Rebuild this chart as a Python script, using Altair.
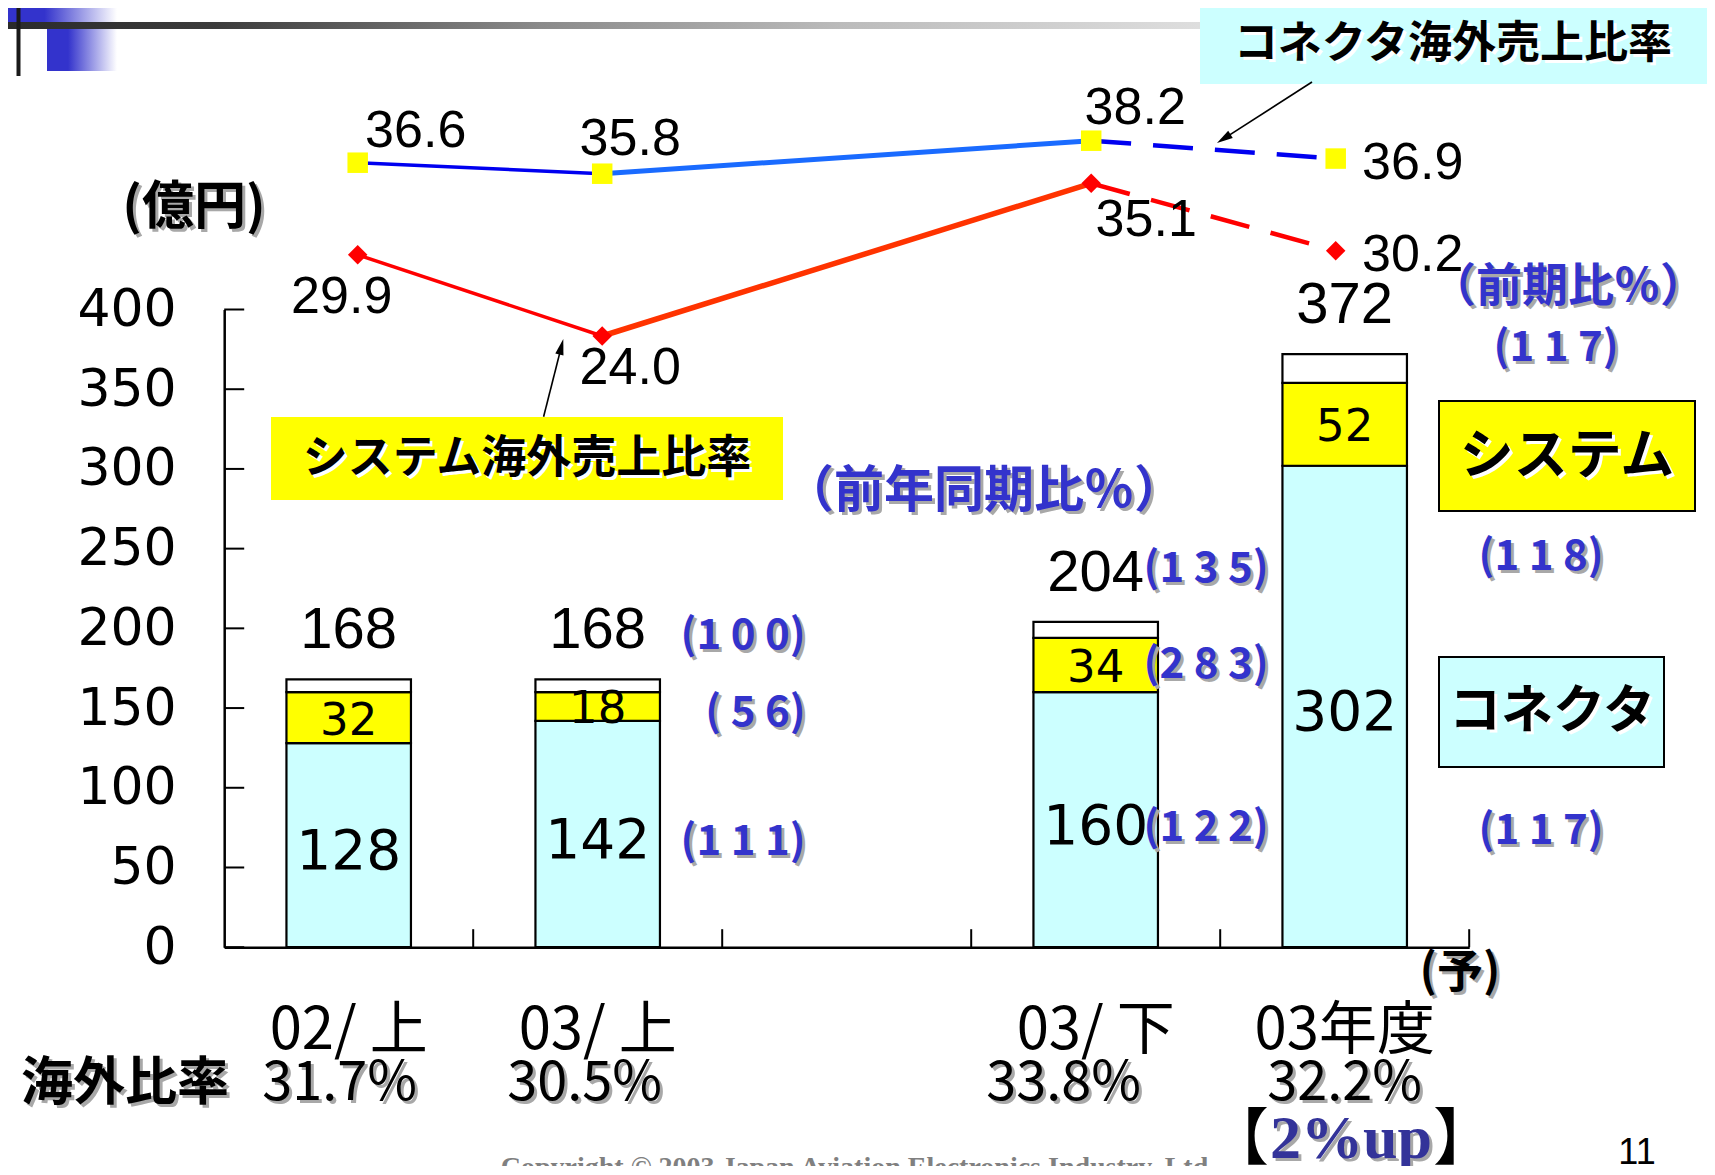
import altair as alt
import pandas as pd
import math

# ---------------- data ----------------
periods = ["02/上", "03/上", "03/下", "03年度"]
slots = ["02/上", "03/上", " ", "03/下", "03年度"]        # band slots (one empty gap)
axis_labels = ["02/ 上", "03/ 上", "03/ 下", "03年度"]
connector = [128, 142, 160, 302]
system = [32, 18, 34, 52]
total = [168, 168, 204, 372]
conn_ratio = [36.6, 35.8, 38.2, 36.9]   # コネクタ海外売上比率
sys_ratio = [29.9, 24.0, 35.1, 30.2]    # システム海外売上比率
overseas = [31.7, 30.5, 33.8, 32.2]     # 海外比率
yoy_total = [None, 100, 135, 117]
yoy_system = [None, 56, 283, 118]
yoy_conn = [None, 111, 122, 117]
y_ticks = [0, 50, 100, 150, 200, 250, 300, 350, 400]

# ---------------- geometry ----------------
OX, OY = 224.2, 309.5          # plot origin in page coordinates
W, H = 1245.0, 637.7
TOT_W, TOT_H = 1699, 1158

def rx(x):
    return x - OX

def ry(y):
    return y - OY

JP = "Noto Sans CJK JP"
BLUE = "#3333CC"
GRAY = "#A8A8A8"
one = pd.DataFrame({"k": [0]})

xband = alt.Scale(domain=slots, paddingInner=0.5, paddingOuter=0.25)
xedge = alt.Scale(domain=slots, paddingInner=0, paddingOuter=0)
xpt = alt.Scale(type="point", domain=slots, padding=0.546)
ybar = alt.Scale(domain=[0, 400], nice=False, zero=True)
yline = alt.Scale(domain=[24.0, 38.2], range=[ry(336.0), ry(140.7)], nice=False, zero=False)

layers = []

def note(text, x, y, size, color="black", font=JP, weight="bold", align="center",
         baseline="middle", shadow=None, sd=3):
    out = []
    if shadow:
        out.append(alt.Chart(one).mark_text(text=text, fontSize=size, font=font, fontWeight=weight,
                                            color=shadow, align=align, baseline=baseline)
                   .encode(x=alt.value(rx(x + sd)), y=alt.value(ry(y + sd))))
    out.append(alt.Chart(one).mark_text(text=text, fontSize=size, font=font, fontWeight=weight,
                                        color=color, align=align, baseline=baseline)
               .encode(x=alt.value(rx(x)), y=alt.value(ry(y))))
    return out

def box(x0, y0, x1, y1, fill, stroke=None, sw=0):
    kw = dict(fill=fill, strokeWidth=sw)
    if stroke:
        kw["stroke"] = stroke
    return alt.Chart(one).mark_rect(**kw).encode(
        x=alt.value(rx(x0)), x2=alt.value(rx(x1)), y=alt.value(ry(y0)), y2=alt.value(ry(y1)))

def grad(stops):
    return alt.LinearGradient(gradient="linear",
                              stops=[alt.GradientStop(color=c, offset=o) for o, c in stops],
                              x1=0, x2=1, y1=0, y2=0)

def arrow(x0, y0, xt, yt, angle):
    ux, uy = xt - x0, yt - y0
    n = math.hypot(ux, uy)
    cx, cy = xt - 10 * ux / n, yt - 10 * uy / n
    return [
        alt.Chart(one).mark_rule(color="black", strokeWidth=1.6).encode(
            x=alt.value(rx(x0)), y=alt.value(ry(y0)), x2=alt.value(rx(cx)), y2=alt.value(ry(cy))),
        alt.Chart(one).mark_point(shape="M0,-1L0.42,0.6L-0.42,0.6Z", filled=True, color="black",
                                  opacity=1, size=400, angle=angle).encode(
            x=alt.value(rx(cx)), y=alt.value(ry(cy))),
    ]

# ---------------- header decoration ----------------
layers.append(box(0, 0, 117, 22, grad([(0, BLUE), (0.38, BLUE), (1, "#FFFFFF")])))
layers.append(box(47, 29, 117, 71, grad([(0, BLUE), (0.3, BLUE), (1, "#FFFFFF")])))
layers.append(box(0, 22, 1200, 29, grad([(0, "#2a2a2a"), (0.18, "#3c3c3c"), (0.45, "#8a8a8a"),
                                         (0.7, "#bbbbbb"), (1, "#dedede")])))
layers.append(box(16.5, 0, 20.5, 76, "#1a1a1a"))

# ---------------- legend / callout boxes ----------------
layers.append(box(271, 417, 783, 500, "#FFFF00"))
layers.append(box(1200, 2, 1712, 84, "#CCFFFF"))
layers.append(box(1439, 401, 1695, 511, "#FFFF00", "black", 2))
layers.append(box(1439, 657, 1664, 767, "#CCFFFF", "black", 2))

# ---------------- bars ----------------
bar_rows = []
for p, c, s, t in zip(periods, connector, system, total):
    bar_rows.append({"period": p, "seg": "コネクタ", "y0": 0, "y1": c})
    bar_rows.append({"period": p, "seg": "システム", "y0": c, "y1": c + s})
    bar_rows.append({"period": p, "seg": "その他", "y0": c + s, "y1": t})
bar_df = pd.DataFrame(bar_rows)

layers.append(alt.Chart(bar_df).mark_bar(stroke="black", strokeWidth=2.2).encode(
    x=alt.X("period:N", scale=xband,
            axis=alt.Axis(labels=False, ticks=False, title=None, domainColor="black",
                          domainWidth=2.5, grid=False)),
    y=alt.Y("y0:Q", scale=ybar,
            axis=alt.Axis(values=y_ticks, title=None, grid=False, ticks=False, labelFontSize=52,
                          labelFont="DejaVu Sans", labelColor="black", labelPadding=48,
                          domainColor="black", domainWidth=2.5, labelFlush=False)),
    y2="y1:Q",
    color=alt.Color("seg:N", scale=alt.Scale(domain=["コネクタ", "システム", "その他"],
                                             range=["#CCFFFF", "#FFFF00", "#FFFFFF"]),
                    legend=None)))

# axis ticks (inside)
layers.append(alt.Chart(pd.DataFrame({"slot": slots})).mark_rule(color="black", strokeWidth=2).encode(
    x=alt.X("slot:N", scale=xedge, bandPosition=1, axis=None),
    y=alt.value(H), y2=alt.value(H - 18)))
layers.append(alt.Chart(pd.DataFrame({"t": y_ticks})).mark_rule(color="black", strokeWidth=2).encode(
    y=alt.Y("t:Q", scale=ybar, axis=None), x=alt.value(0), x2=alt.value(20)))

lab_df = pd.DataFrame({
    "period": periods, "conn": connector, "sys": system, "total": total,
    "conn_mid": [c / 2 for c in connector],
    "sys_mid": [c + s / 2 for c, s in zip(connector, system)],
    "xlab": axis_labels,
})
XB = alt.X("period:N", scale=xband, axis=None)

layers.append(alt.Chart(lab_df).mark_text(font="DejaVu Sans", fontSize=55, dy=7, color="black").encode(
    x=XB, y=alt.Y("conn_mid:Q", scale=ybar, axis=None), text="conn:Q"))
layers.append(alt.Chart(lab_df).mark_text(font="DejaVu Sans", fontSize=45, dy=3, color="black").encode(
    x=XB, y=alt.Y("sys_mid:Q", scale=ybar, axis=None), text="sys:Q"))
layers.append(alt.Chart(lab_df).mark_text(font="Liberation Sans", fontSize=58, dy=-48, color="black").encode(
    x=XB, y=alt.Y("total:Q", scale=ybar, axis=None), text="total:Q"))

# period labels under the axis
layers.append(alt.Chart(lab_df).mark_text(font=JP, fontSize=58, baseline="alphabetic", color="black").encode(
    x=XB, y=alt.value(ry(1049)), text="xlab:N"))

# overseas ratio row
ratio_dx = [-9, -13, -32, 0]
for p, v, dx in zip(periods, overseas, ratio_dx):
    d = pd.DataFrame({"period": [p], "t": [f"{v:.1f}%"]})
    for col, off in [(GRAY, 3), ("black", 0)]:
        layers.append(alt.Chart(d).mark_text(font=JP, fontSize=54, baseline="alphabetic", color=col,
                                             dx=dx + off, dy=off).encode(
            x=XB, y=alt.value(ry(1100)), text="t:N"))

# year-on-year labels (blue)
def spaced(n):
    s = " ".join(str(n))
    if n < 100:
        s = " " + s
    return "(" + s + ")"

yoy_specs = []
for i, p in enumerate(periods):
    if yoy_total[i] is None:
        continue
    yoy_specs.append((p, total[i], yoy_total[i]))
    yoy_specs.append((p, connector[i] + system[i] / 2, yoy_system[i]))
    yoy_specs.append((p, connector[i] / 2, yoy_conn[i]))
yoy_off = [(208, -43), (208, 7), (208, 8),
           (173, -53), (173, 0), (173, 8),
           (274, -6), (259, 133), (259, 125)]
for (p, anchor, val), (dx, dy) in zip(yoy_specs, yoy_off):
    d = pd.DataFrame({"period": [p], "a": [anchor], "t": [spaced(val)]})
    for col, off in [(GRAY, 3), (BLUE, 0)]:
        layers.append(alt.Chart(d).mark_text(font=JP, fontWeight="bold", fontSize=42, align="right",
                                             color=col, dx=dx + off, dy=dy + off).encode(
            x=XB, y=alt.Y("a:Q", scale=ybar, axis=None), text="t:N"))

# ---------------- ratio lines ----------------
seg_rows = []
series = [
    ("conn", conn_ratio, ["#0000F0", "#1A6BFF", "#0000F0"], [3.5, 5, 4.5]),
    ("sys", sys_ratio, ["#FF0000", "#FF3300", "#FF0000"], [3.5, 5.5, 4.5]),
]
for name, vals, cols, ws in series:
    for k in range(3):
        for j in (k, k + 1):
            seg_rows.append({"seg": f"{name}{k}", "period": periods[j], "v": vals[j],
                             "col": cols[k], "w": ws[k], "dashed": k == 2})
seg_df = pd.DataFrame(seg_rows)
XP = alt.X("period:N", scale=xpt, axis=None)
YL = alt.Y("v:Q", scale=yline, axis=None)
layers.append(alt.Chart(seg_df[~seg_df.dashed]).mark_line().encode(
    x=XP, y=YL, detail="seg:N", color=alt.Color("col:N", scale=None),
    strokeWidth=alt.StrokeWidth("w:Q", scale=None)))
layers.append(alt.Chart(seg_df[seg_df.dashed]).mark_line(strokeDash=[40, 22]).encode(
    x=XP, y=YL, detail="seg:N", color=alt.Color("col:N", scale=None),
    strokeWidth=alt.StrokeWidth("w:Q", scale=None)))

mk_rows = []
for p, v in zip(periods, conn_ratio):
    mk_rows.append({"period": p, "v": v, "shape": "square", "fill": "#FFFF00", "size": 420})
for p, v in zip(periods, sys_ratio):
    mk_rows.append({"period": p, "v": v, "shape": "diamond", "fill": "#FF0000", "size": 380})
layers.append(alt.Chart(pd.DataFrame(mk_rows)).mark_point(filled=True, opacity=1).encode(
    x=XP, y=YL, shape=alt.Shape("shape:N", scale=None), color=alt.Color("fill:N", scale=None),
    size=alt.Size("size:Q", scale=None)))

blue_off = [(58, -32), (28, -35), (44, -33), (77, 4)]
red_off = [(-16, 42), (28, 32), (55, 37), (77, 4)]
for vals, offs in [(conn_ratio, blue_off), (sys_ratio, red_off)]:
    for p, v, (dx, dy) in zip(periods, vals, offs):
        d = pd.DataFrame({"period": [p], "v": [v], "t": [f"{v:.1f}"]})
        layers.append(alt.Chart(d).mark_text(font="Liberation Sans", fontSize=52, dx=dx, dy=dy,
                                             color="black").encode(x=XP, y=YL, text="t:N"))

# ---------------- arrows ----------------
layers += arrow(543.6, 416.7, 563.3, 339.0, 14.2)
layers += arrow(1312.0, 82.0, 1217.0, 143.0, 237.3)

# ---------------- annotation texts ----------------
layers += note("(億円)", 194, 208, 52, shadow=GRAY)
layers += note("システム海外売上比率", 527, 459, 45, shadow="#FFFFFF")
layers += note("コネクタ海外売上比率", 1453, 45, 44, shadow="#FFFFFF")
layers += note("（前年同期比％）", 984, 492, 50, color=BLUE, shadow=GRAY)
layers += note("（前期比％）", 1568, 287, 46, color=BLUE, shadow=GRAY)
layers += note("システム", 1567, 458, 54, shadow="#FFFFFF")
layers += note("コネクタ", 1552, 712, 52, shadow="#FFFFFF")
layers += note("(予)", 1460, 973, 46, shadow=GRAY)
layers += note("海外比率", 125, 1100, 52, baseline="alphabetic", shadow=GRAY)
layers += note("【", 1269, 1160, 62, weight="normal", align="right", baseline="alphabetic")
layers += note("2%up", 1351, 1158, 62, color="#333399", font="Liberation Serif",
               baseline="alphabetic", shadow=GRAY)
layers += note("】", 1433, 1160, 62, weight="normal", align="left", baseline="alphabetic")
layers += note("11", 1637, 1164, 36, font="Liberation Sans", weight="normal", baseline="alphabetic")
layers += note("Copyright © 2003  Japan Aviation Electronics Industry, Ltd.", 858, 1176, 28,
               color="#808080", font="Liberation Serif", baseline="alphabetic")

chart = alt.layer(*layers).resolve_scale(
    x="independent", y="independent"
).properties(
    width=W, height=H,
    padding={"left": OX - 8, "top": OY - 8, "right": TOT_W - (OX - 8) - W,
             "bottom": TOT_H - (OY - 8) - H},
    autosize=alt.AutoSizeParams(type="none"),
    background="white",
).configure_view(stroke=None)

chart.save("out.html", embed_options={"renderer": "svg", "actions": False})
